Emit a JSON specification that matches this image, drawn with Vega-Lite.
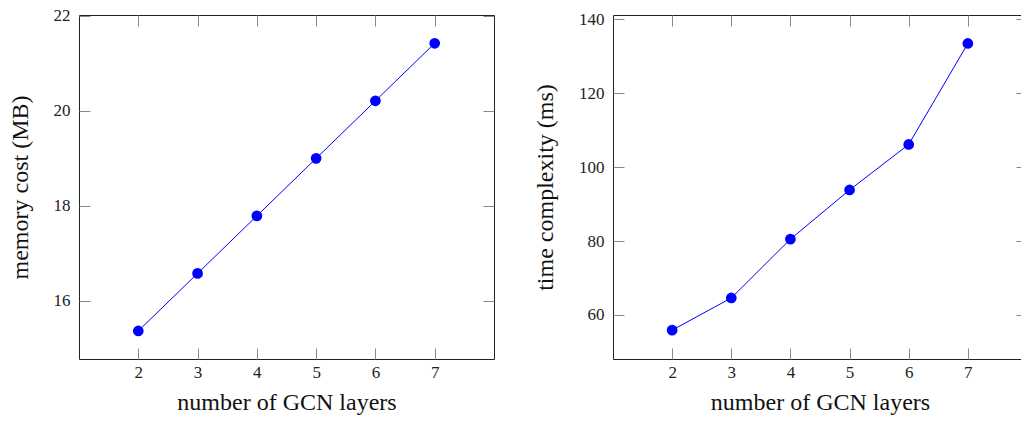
{
  "$schema": "https://vega.github.io/schema/vega-lite/v6.json",
  "padding": {"left": 7, "top": 6, "right": 0, "bottom": 0},
  "background": "white",
  "config": {
    "view": {"stroke": "#222222", "strokeWidth": 1},
    "font": "Liberation Serif",
    "axis": {
      "grid": false,
      "domain": false,
      "tickSize": -11,
      "tickColor": "#8a8a8a",
      "tickWidth": 1,
      "labelFont": "Liberation Serif",
      "labelFontSize": 17,
      "labelColor": "#222222",
      "titleFont": "Liberation Serif",
      "titleFontSize": 24,
      "titleFontWeight": "normal",
      "titleColor": "#111111"
    }
  },
  "data": {"values": [
    {"layers": 2, "memory": 15.37, "time": 55.9},
    {"layers": 3, "memory": 16.58, "time": 64.6},
    {"layers": 4, "memory": 17.79, "time": 80.5},
    {"layers": 5, "memory": 19.0, "time": 93.8},
    {"layers": 6, "memory": 20.21, "time": 106.1},
    {"layers": 7, "memory": 21.42, "time": 133.4}
  ]},
  "spacing": 38,
  "hconcat": [
    {
      "width": 415,
      "height": 344,
      "layer": [
        {
          "mark": {"type": "line", "color": "#0000ff", "strokeWidth": 1},
          "encoding": {
            "x": {"field": "layers", "type": "quantitative", "scale": {"domain": [1, 8], "nice": false, "zero": false},
              "axis": {"orient": "bottom", "values": [2, 3, 4, 5, 6, 7], "title": "number of GCN layers", "labelPadding": 16, "titlePadding": 10}},
            "y": {"field": "memory", "type": "quantitative", "scale": {"domain": [14.78, 22.015], "nice": false, "zero": false},
              "axis": {"orient": "left", "values": [16, 18, 20, 22], "title": "memory cost (MB)", "labelPadding": 20, "titlePadding": 21}}
          }
        },
        {
          "mark": {"type": "circle", "color": "#0000ff", "size": 115, "opacity": 1},
          "encoding": {
            "x": {"field": "layers", "type": "quantitative", "scale": {"domain": [1, 8], "nice": false, "zero": false},
              "axis": {"orient": "top", "values": [2, 3, 4, 5, 6, 7], "labels": false, "title": null}},
            "y": {"field": "memory", "type": "quantitative", "scale": {"domain": [14.78, 22.015], "nice": false, "zero": false},
              "axis": {"orient": "right", "values": [16, 18, 20, 22], "labels": false, "title": null}}
          }
        }
      ],
      "resolve": {"axis": {"x": "independent", "y": "independent"}}
    },
    {
      "width": 414,
      "height": 344,
      "layer": [
        {
          "mark": {"type": "line", "color": "#0000ff", "strokeWidth": 1},
          "encoding": {
            "x": {"field": "layers", "type": "quantitative", "scale": {"domain": [1, 8], "nice": false, "zero": false},
              "axis": {"orient": "bottom", "values": [2, 3, 4, 5, 6, 7], "title": "number of GCN layers", "labelPadding": 16, "titlePadding": 10}},
            "y": {"field": "time", "type": "quantitative", "scale": {"domain": [48.1, 141.1], "nice": false, "zero": false},
              "axis": {"orient": "left", "values": [60, 80, 100, 120, 140], "title": "time complexity (ms)", "labelPadding": 20, "titlePadding": 21}}
          }
        },
        {
          "mark": {"type": "circle", "color": "#0000ff", "size": 115, "opacity": 1},
          "encoding": {
            "x": {"field": "layers", "type": "quantitative", "scale": {"domain": [1, 8], "nice": false, "zero": false},
              "axis": {"orient": "top", "values": [2, 3, 4, 5, 6, 7], "labels": false, "title": null}},
            "y": {"field": "time", "type": "quantitative", "scale": {"domain": [48.1, 141.1], "nice": false, "zero": false},
              "axis": {"orient": "right", "values": [60, 80, 100, 120, 140], "labels": false, "title": null}}
          }
        }
      ],
      "resolve": {"axis": {"x": "independent", "y": "independent"}}
    }
  ]
}
